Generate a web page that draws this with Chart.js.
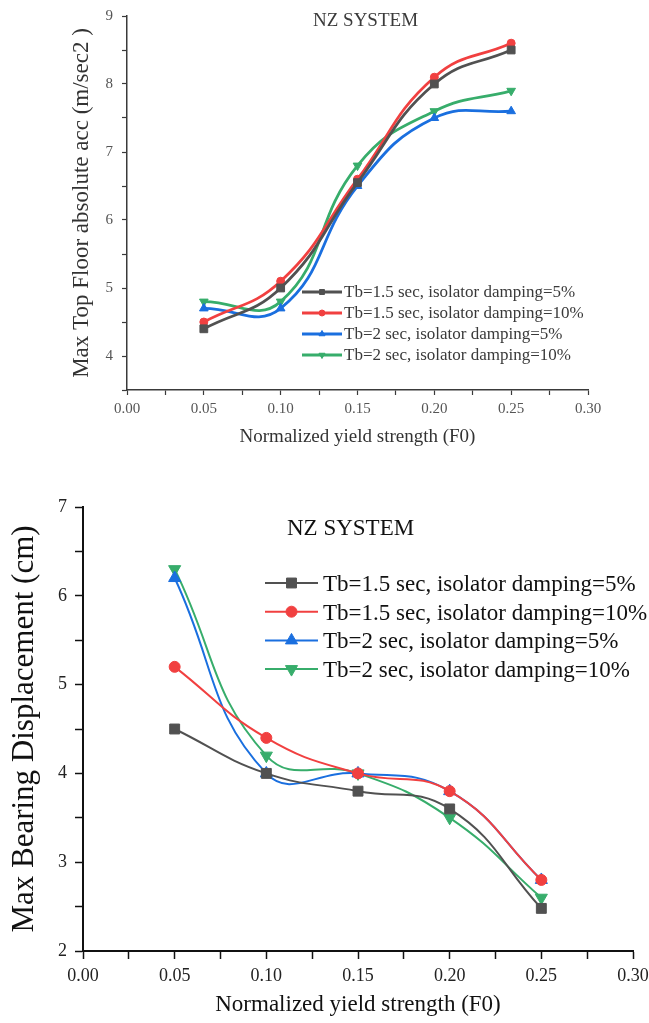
<!DOCTYPE html>
<html><head><meta charset="utf-8">
<script src="https://cdn.jsdelivr.net/npm/chart.js@4.4.1/dist/chart.umd.min.js"></script>
<style>
html,body{margin:0;padding:0;background:#fff;width:649px;height:1023px;overflow:hidden}
.box{position:absolute;left:0;width:649px}
#b1{top:0;height:460px}
#b2{top:470px;height:553px}
canvas{display:block}
#c1{filter:blur(0.4px)}
</style></head><body>
<div class="box" id="b1"><canvas id="c1"></canvas></div>
<div class="box" id="b2"><canvas id="c2"></canvas></div>
<script>
// ---------- data ----------
const xValues = [0.05, 0.10, 0.15, 0.20, 0.25];
const seriesLabels = [
  'Tb=1.5 sec, isolator damping=5%',
  'Tb=1.5 sec, isolator damping=10%',
  'Tb=2 sec, isolator damping=5%',
  'Tb=2 sec, isolator damping=10%'
];
const accTb15d5  = [4.4, 5.0, 6.55, 8.0, 8.5];
const accTb15d10 = [4.5, 5.1, 6.6, 8.1, 8.6];
const accTb2d5   = [4.7, 4.7, 6.5, 7.5, 7.6];
const accTb2d10  = [4.8, 4.8, 6.8, 7.6, 7.9];
const dispTb15d5  = [4.5, 4.0, 3.8, 3.6, 2.48];
const dispTb15d10 = [5.2, 4.4, 4.0, 3.8, 2.8];
const dispTb2d5   = [6.2, 4.0, 4.0, 3.8, 2.8];
const dispTb2d10  = [6.3, 4.2, 4.0, 3.5, 2.6];
const xTickLabels = ['0.00','0.05','0.10','0.15','0.20','0.25','0.30'];
const accTickLabels = ['4','5','6','7','8','9'];
const dispTickLabels = ['2','3','4','5','6','7'];
const chartTitle = 'NZ SYSTEM';
const xTitle = 'Normalized yield strength (F0)';
const accTitle = 'Max Top Floor absolute acc (m/sec2 )';
const dispTitle = 'Max Bearing Displacement (cm)';

// ---------- styles ----------
const colors = ['#515151', '#F14040', '#1A6FDF', '#37AD6B'];
const pStyles = ['rect', 'circle', 'triangle', 'triangle'];
const pRot = [0, 0, 0, 180];
const SERIF = "'Liberation Serif', 'Times New Roman', serif";

function labelFrom(list, v) {
  const f = list.find(l => Math.abs(parseFloat(l) - v) < 1e-9);
  return f === undefined ? '' : f;
}

function makeDatasets(series, radii, lw) {
  return series.map((vals, i) => ({
    label: seriesLabels[i],
    data: xValues.map((x, k) => ({x: x, y: vals[k]})),
    borderColor: colors[i],
    backgroundColor: colors[i],
    pointBackgroundColor: colors[i],
    pointBorderColor: colors[i],
    pointStyle: pStyles[i],
    pointRotation: pRot[i],
    pointRadius: radii[i],
    pointBorderWidth: 1,
    borderWidth: lw,
    tension: 0.45,
    fill: false,
    clip: false
  }));
}

const legendPlugin = {
  id: 'customLegend',
  afterDraw(chart, args, o) {
    const ctx = chart.ctx;
    ctx.save();
    chart.data.datasets.forEach((ds, i) => {
      const y = o.y0 + i * o.dy;
      ctx.strokeStyle = ds.borderColor;
      ctx.lineWidth = o.lw;
      ctx.beginPath(); ctx.moveTo(o.x0, y); ctx.lineTo(o.x1, y); ctx.stroke();
      ctx.fillStyle = ds.borderColor;
      ctx.lineWidth = 1;
      Chart.helpers.drawPoint(ctx, {pointStyle: ds.pointStyle, rotation: ds.pointRotation, radius: o.r[i], borderWidth: 1}, (o.x0 + o.x1) / 2, y);
      ctx.font = o.font;
      ctx.fillStyle = o.color;
      ctx.textBaseline = 'alphabetic';
      ctx.textAlign = 'left';
      ctx.fillText(ds.label, o.tx, y + o.tdy);
    });
    if (o.title) {
      ctx.font = o.titleFont;
      ctx.fillStyle = o.color;
      ctx.fillText(o.title, o.titleX, o.titleY);
    }
    ctx.restore();
  }
};

function scalesCfg(p) {
  return {
    x: {
      type: 'linear', min: 0, max: 0.3, offset: false,
      afterBuildTicks: s => { const t = []; for (let i = 0; i <= 12; i++) t.push({value: i * 0.025}); s.ticks = t; },
      afterFit: s => { s.height = p.xH; s.paddingLeft = 0; s.paddingRight = 0; },
      ticks: { autoSkip: false, maxRotation: 0, padding: p.xPad, color: p.tickColor,
        font: {family: SERIF, size: p.tickSize}, callback: v => labelFrom(xTickLabels, v) },
      grid: { drawOnChartArea: false, drawTicks: true, tickLength: p.tickLen, tickColor: p.axisColor, tickWidth: p.tickW },
      border: { display: true, color: p.axisColor, width: p.axisW },
      title: { display: true, text: xTitle, color: p.titleColor,
        font: {family: SERIF, size: p.xTitleSize}, padding: {top: 0, bottom: p.xTitlePad} }
    },
    y: {
      type: 'linear', min: p.yMin, max: p.yMax,
      afterBuildTicks: s => { const t = []; for (let v = p.yMin; v <= p.yMax + 1e-9; v += 0.5) t.push({value: v}); s.ticks = t; },
      afterFit: s => { s.width = p.yW; s.paddingTop = 0; s.paddingBottom = 0; },
      ticks: { autoSkip: false, padding: p.yPad, color: p.tickColor,
        font: {family: SERIF, size: p.tickSize}, callback: v => labelFrom(p.yLabels, v) },
      grid: { drawOnChartArea: false, drawTicks: true, tickLength: p.tickLen, tickColor: p.axisColor, tickWidth: p.tickW },
      border: { display: true, color: p.axisColor, width: p.axisW },
      title: { display: true, text: p.yTitle, color: p.titleColor,
        font: {family: SERIF, size: p.yTitleSize}, padding: {top: p.yTitlePad, bottom: 0} }
    }
  };
}

// ---------- chart 1 ----------
new Chart(document.getElementById('c1'), {
  type: 'line',
  data: { datasets: makeDatasets([accTb15d5, accTb15d10, accTb2d5, accTb2d10], [5.5, 4, 5, 5], 2.8) },
  options: {
    responsive: true, maintainAspectRatio: false, animation: false,
    layout: { padding: {left: 0, right: 61, top: 16, bottom: 0} },
    plugins: {
      legend: {display: false}, tooltip: {enabled: false},
      customLegend: { x0: 302, x1: 342, tx: 344, y0: 292, dy: 21, tdy: 5, lw: 2.8, r: [3.5, 3, 3.5, 3.5],
        font: "17px " + SERIF, color: '#3a3a3a',
        title: chartTitle, titleFont: "19px " + SERIF, titleX: 313, titleY: 26 }
    },
    scales: scalesCfg({ xH: 70, yW: 127, xPad: 5, yPad: 9, tickLen: 5, tickW: 1.2, axisW: 1.5,
      axisColor: '#3a3a3a', tickColor: '#555', titleColor: '#333', tickSize: 15,
      xTitleSize: 19, xTitlePad: 11.6, yTitleSize: 23, yTitlePad: 68,
      yMin: 3.5, yMax: 9, yLabels: accTickLabels, yTitle: accTitle })
  },
  plugins: [legendPlugin]
});

// ---------- chart 2 ----------
new Chart(document.getElementById('c2'), {
  type: 'line',
  data: { datasets: makeDatasets([dispTb15d5, dispTb15d10, dispTb2d5, dispTb2d10], [7, 5.5, 7, 7], 2) },
  options: {
    responsive: true, maintainAspectRatio: false, animation: false,
    layout: { padding: {left: 0, right: 16, top: 37, bottom: 0} },
    plugins: {
      legend: {display: false}, tooltip: {enabled: false},
      customLegend: { x0: 265, x1: 318, tx: 323, y0: 113, dy: 28.7, tdy: 8, lw: 2, r: [7, 5.5, 7, 7],
        font: "23px " + SERIF, color: '#111',
        title: chartTitle, titleFont: "23px " + SERIF, titleX: 287, titleY: 65 }
    },
    scales: scalesCfg({ xH: 72, yW: 83, xPad: 6, yPad: 8, tickLen: 8, tickW: 1.5, axisW: 2,
      axisColor: '#111', tickColor: '#222', titleColor: '#111', tickSize: 18,
      xTitleSize: 23, xTitlePad: 4, yTitleSize: 31, yTitlePad: 6,
      yMin: 2, yMax: 7, yLabels: dispTickLabels, yTitle: dispTitle })
  },
  plugins: [legendPlugin]
});
</script>
</body></html>
